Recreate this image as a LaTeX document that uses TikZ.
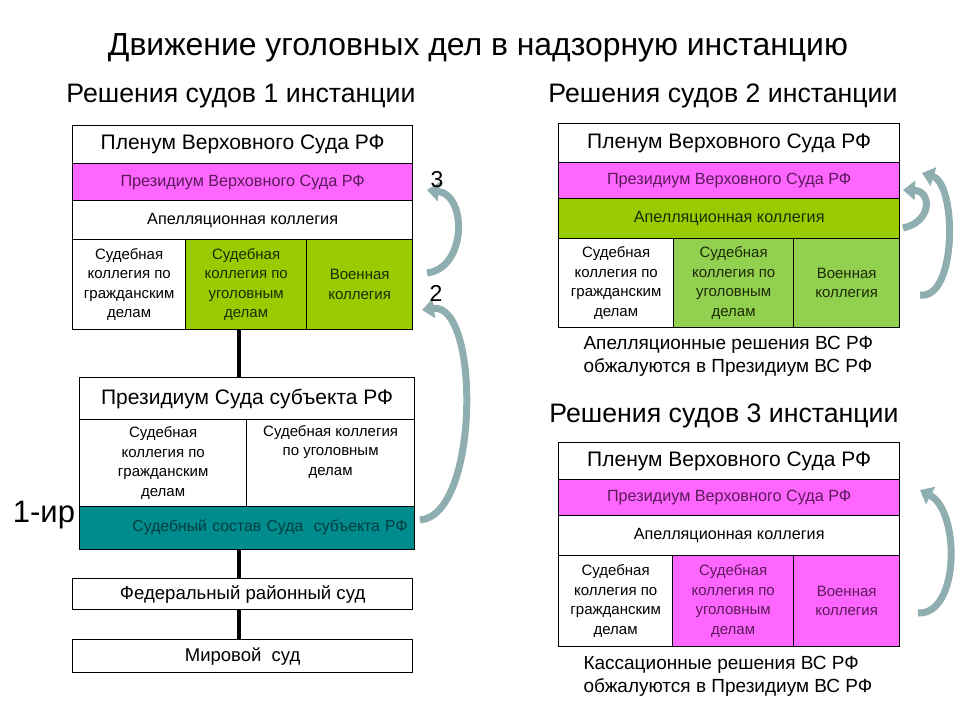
\documentclass[tikz,border=0pt]{standalone}
\usepackage{fontspec}
\setmainfont{Liberation Sans}
\usepackage{xcolor}
\usetikzlibrary{arrows.meta,calc,positioning}
\definecolor{pinkc}{HTML}{FF66FF}
\definecolor{pinkt}{HTML}{5A1A5A}
\definecolor{olivec}{HTML}{99CC00}
\definecolor{lgreenc}{HTML}{92D050}
\definecolor{greent}{HTML}{1E2A05}
\definecolor{tealc}{HTML}{008C8C}
\definecolor{tealt}{HTML}{003C40}
\definecolor{arrc}{HTML}{8EAEB0}
\tikzset{
  cell/.style={draw, line width=1.3pt, inner sep=2pt, align=center, anchor=north west,
    font=\fontsize{15}{19.5}\selectfont},
  bigcell/.style={cell, font=\fontsize{21}{25}\selectfont},
  rowcell/.style={cell, font=\fontsize{16.2}{19.5}\selectfont},
  pinkcell/.style={cell, fill=pinkc, text=pinkt},
  olivecell/.style={cell, fill=olivec, text=greent},
  greencell/.style={cell, fill=lgreenc, text=greent},
  stem/.style={line width=4pt},
  flow/.style={line width=7pt, draw=arrc, -{Triangle[width=19pt,length=12pt]}},
  note/.style={font=\fontsize{19}{23}\selectfont, align=left, anchor=west},
  head/.style={font=\fontsize{26.7}{30}\selectfont},
  every picture/.style={line cap=butt, line join=miter}
}

\begin{document}
\begin{tikzpicture}[x=1pt, y=-1pt]
    \useasboundingbox (0,0) rectangle (960,720);

    \node[font=\fontsize{31.9}{36}\selectfont] (title) at (478,48) {Движение уголовных дел в надзорную инстанцию};
    \node[head] (sub1) at (241,96) {Решения судов 1 инстанции};
    \node[head] (sub2) at (723,96) {Решения судов 2 инстанции};
    \node[head] (sub3) at (724,416) {Решения судов 3 инстанции};

    % 1 instance: Supreme Court
    \node[bigcell, minimum width=340pt, minimum height=38pt] (plenA) at (72,125) {Пленум Верховного Суда РФ};
    \node[rowcell, fill=pinkc, text=pinkt, minimum width=340pt, minimum height=37pt] (presA) at (72,163) {Президиум Верховного Суда РФ};
    \node[rowcell, minimum width=340pt, minimum height=39pt] (appA) at (72,200) {Апелляционная коллегия};
    \node[cell, minimum width=113pt, minimum height=90pt] (civA) at (72,239) {Судебная\\коллегия по\\гражданским\\делам};
    \node[olivecell, minimum width=121pt, minimum height=90pt] (crimA) at (185,239) {Судебная\\коллегия по\\уголовным\\делам};
    \node[olivecell, minimum width=106pt, minimum height=90pt] (milA) at (306,239) {Военная\\коллегия};

    % court of the subject
    \node[bigcell, minimum width=335pt, minimum height=42pt] (presS) at (79,377) {Президиум Суда субъекта РФ};
    \node[cell, minimum width=167pt, minimum height=87pt] (civS) at (79,419) {Судебная\\коллегия по\\гражданским\\делам};
    \node[cell, minimum width=168pt, minimum height=87pt] (crimS) at (246,419) {Судебная коллегия\\по уголовным\\делам\\\strut};
    \node[cell, fill=tealc, text=tealt, minimum width=335pt, minimum height=43pt, text width=321pt,
      align=right, font=\fontsize{15.8}{18}\selectfont] (panelS) at (79,506) {\raisebox{5pt}{Судебный состав Суда\ \ субъекта РФ}};
    \node[font=\fontsize{31}{36}\selectfont] (lab1) at (44,515) {1-ир};

    \node[cell, minimum width=340pt, minimum height=31pt, font=\fontsize{18.6}{22}\selectfont] (fed) at (72,578) {Федеральный районный суд};
    \node[cell, minimum width=340pt, minimum height=33pt, font=\fontsize{18.5}{22}\selectfont] (mir) at (72,639) {Мировой\ \ суд};

    \draw[stem] ([xshift=-7pt]crimA.south) -- ([xshift=-7pt]crimA.south |- presS.north);
    \draw[stem] ([xshift=-4pt]fed.north |- panelS.south) -- ([xshift=-4pt]fed.north);
    \draw[stem] ([xshift=-4pt]fed.south) -- ([xshift=-4pt]fed.south |- mir.north);

    % 2 instance
    \node[bigcell, minimum width=341pt, minimum height=39pt] (plenB) at (558,123) {Пленум Верховного Суда РФ};
    \node[rowcell, fill=pinkc, text=pinkt, minimum width=341pt, minimum height=36pt] (presB) at (558,162) {Президиум Верховного Суда РФ};
    \node[rowcell, fill=olivec, text=greent, minimum width=341pt, minimum height=40pt] (appB) at (558,198) {Апелляционная коллегия};
    \node[cell, minimum width=115pt, minimum height=89pt] (civB) at (558,238) {Судебная\\коллегия по\\гражданским\\делам};
    \node[greencell, minimum width=120pt, minimum height=89pt] (crimB) at (673,238) {Судебная\\коллегия по\\уголовным\\делам};
    \node[greencell, minimum width=106pt, minimum height=89pt] (milB) at (793,238) {Военная\\коллегия};
    \node[note] (noteB) at (580,356) {Апелляционные решения ВС РФ\\обжалуются в Президиум ВС РФ};

    % 3 instance
    \node[bigcell, minimum width=341pt, minimum height=37pt] (plenC) at (558,442) {Пленум Верховного Суда РФ};
    \node[rowcell, fill=pinkc, text=pinkt, minimum width=341pt, minimum height=36pt] (presC) at (558,479) {Президиум Верховного Суда РФ};
    \node[rowcell, minimum width=341pt, minimum height=40pt] (appC) at (558,515) {Апелляционная коллегия};
    \node[cell, minimum width=114pt, minimum height=91pt] (civC) at (558,555) {Судебная\\коллегия по\\гражданским\\делам};
    \node[pinkcell, minimum width=121pt, minimum height=91pt] (crimC) at (672,555) {Судебная\\коллегия по\\уголовным\\делам};
    \node[pinkcell, minimum width=106pt, minimum height=91pt] (milC) at (793,555) {Военная\\коллегия};
    \node[note] (noteC) at (580,676) {Кассационные решения ВС РФ\\обжалуются в Президиум ВС РФ};

    % arrows
    \coordinate (t3) at (427,273);
    \coordinate (h3) at (427,190);
    \coordinate (t2) at (420,520);
    \coordinate (h2) at (422,310);
    \coordinate (tB1) at (903,228);
    \coordinate (hB1) at (903,190);
    \coordinate (tB2) at (920,295);
    \coordinate (hB2) at (922,173);
    \coordinate (tC) at (918,613);
    \coordinate (hC) at (920,490);

    \draw[flow] (t3) .. controls (467,268) and (467,195) .. (h3);
    \draw[flow] (t2) .. controls (480,515) and (480,302) .. (h2);
    \draw[flow] (tB1) .. controls (932,222) and (932,191) .. (hB1);
    \draw[flow] (tB2) .. controls (957,300) and (957,184) .. (hB2);
    \draw[flow] (tC) .. controls (960,615) and (960,511) .. (hC);

    \node[font=\fontsize{23}{26}\selectfont] (n3) at (437,180) {3};
    \node[font=\fontsize{23}{26}\selectfont] (n2) at (436,293) {2};
  \end{tikzpicture}
\end{document}
